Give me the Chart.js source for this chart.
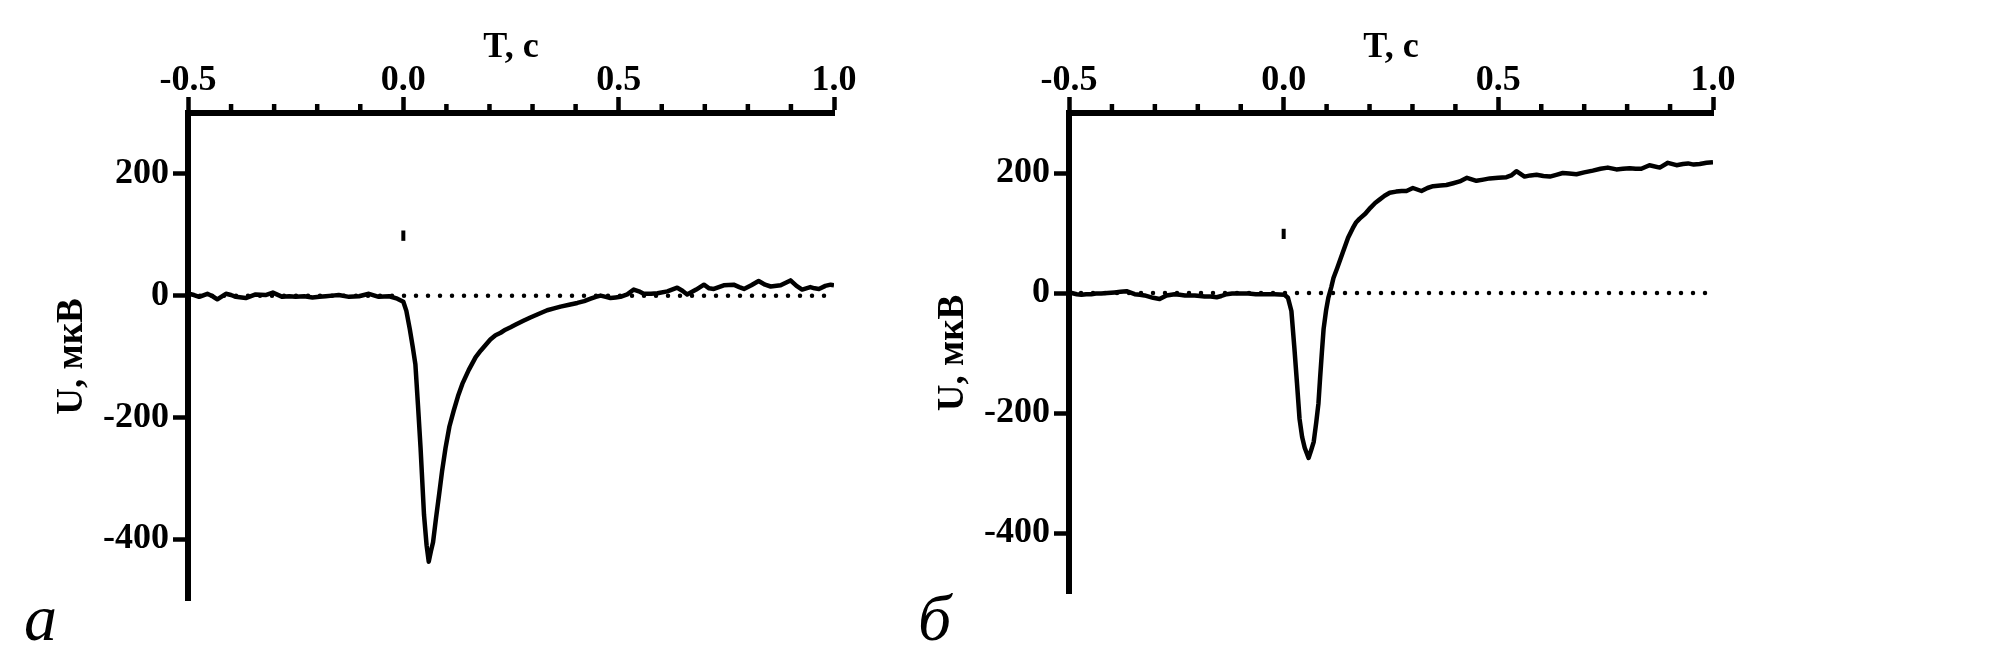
<!DOCTYPE html>
<html>
<head>
<meta charset="utf-8">
<script src="https://cdn.jsdelivr.net/npm/chart.js@4.4.1/dist/chart.umd.min.js"></script>
<style>
    html, body { margin: 0; padding: 0; background: #fff; }
    body { width: 2008px; height: 665px; position: relative; overflow: hidden; }
    canvas { position: absolute; top: 0; }
    #chart-a { left: 0; }
    #chart-b { left: 900px; }
    .panel-label {
        position: absolute;
        font-family: "Liberation Serif", "Times New Roman", serif;
        font-style: italic;
        font-size: 66px;
        line-height: 1;
    }
</style>
</head>
<body>
<canvas id="chart-a" width="900" height="665"></canvas>
<canvas id="chart-b" width="1108" height="665"></canvas>
<div class="panel-label" style="left:24px; top:585px;">а</div>
<div class="panel-label" style="left:918px; top:585px;">б</div>
<script>
// panel "а": time, s / potential, µV
const tA = [-0.498, -0.486, -0.474, -0.455, -0.443, -0.432, -0.412, -0.400, -0.389, -0.366,
    -0.343, -0.320, -0.303, -0.281, -0.265, -0.250, -0.230, -0.211, -0.195, -0.180,
    -0.165, -0.150, -0.126, -0.103, -0.080, -0.057, -0.033, -0.014, 0.000, 0.007,
    0.015, 0.022, 0.028, 0.034, 0.040, 0.048, 0.054, 0.059, 0.064, 0.069,
    0.076, 0.083, 0.090, 0.098, 0.107, 0.117, 0.127, 0.137, 0.152, 0.168,
    0.180, 0.191, 0.202, 0.214, 0.226, 0.237, 0.249, 0.260, 0.280, 0.295,
    0.311, 0.334, 0.350, 0.365, 0.385, 0.404, 0.420, 0.435, 0.447, 0.458,
    0.470, 0.481, 0.493, 0.504, 0.520, 0.535, 0.547, 0.558, 0.575, 0.590,
    0.613, 0.636, 0.648, 0.659, 0.680, 0.698, 0.710, 0.721, 0.744, 0.767,
    0.780, 0.791, 0.808, 0.825, 0.840, 0.853, 0.876, 0.899, 0.913, 0.926,
    0.945, 0.955, 0.965, 0.980, 0.992, 1.000];
const uA = [3, 1, -2, 3, -1, -6, 3, 1, -2, -4,
    2, 1, 5, -2, -1, -2, -1, -3, -2, -1,
    0, 1, -2, -1, 3, -2, -1, -5, -10, -25,
    -55, -85, -113, -180, -250, -360, -410, -437, -420, -405,
    -365, -327, -288, -250, -215, -189, -165, -145, -122, -101,
    -90, -81, -72, -65, -61, -56, -52, -48, -41, -36,
    -31, -24, -21, -18, -15, -12, -9, -5, -2, 0,
    -2, -4, -3, -2, 2, 10, 7, 3, 3, 4,
    7, 13, 8, 2, 10, 18, 12, 11, 17, 18,
    14, 11, 17, 24, 18, 15, 17, 25, 16, 10,
    14, 12, 11, 16, 18, 17];

// panel "б"
const tB = [-0.500, -0.494, -0.482, -0.471, -0.460, -0.448, -0.437, -0.425, -0.410, -0.394,
    -0.380, -0.366, -0.347, -0.335, -0.324, -0.314, -0.304, -0.289, -0.273, -0.254,
    -0.242, -0.230, -0.207, -0.195, -0.184, -0.170, -0.156, -0.145, -0.133, -0.120,
    -0.106, -0.082, -0.065, -0.051, -0.021, 0.002, 0.010, 0.018, 0.025, 0.031,
    0.037, 0.043, 0.049, 0.058, 0.064, 0.070, 0.076, 0.081, 0.085, 0.089,
    0.093, 0.099, 0.104, 0.111, 0.116, 0.125, 0.136, 0.150, 0.161, 0.169,
    0.177, 0.190, 0.202, 0.213, 0.224, 0.235, 0.247, 0.262, 0.275, 0.286,
    0.301, 0.321, 0.335, 0.348, 0.365, 0.379, 0.395, 0.410, 0.427, 0.449,
    0.465, 0.480, 0.500, 0.519, 0.530, 0.542, 0.561, 0.575, 0.589, 0.605,
    0.620, 0.635, 0.650, 0.665, 0.682, 0.700, 0.720, 0.738, 0.755, 0.775,
    0.790, 0.806, 0.820, 0.833, 0.852, 0.876, 0.895, 0.915, 0.930, 0.942,
    0.955, 0.969, 0.985, 1.000];
const uB = [-1, 0, -2, -3, -2, -2, -1, -1, 0, 1,
    2, 3, -2, -3, -4, -6, -8, -10, -4, -2,
    -3, -4, -4, -5, -6, -6, -7, -5, -2, -1,
    -1, -1, -2, -2, -2, -3, -8, -30, -92, -150,
    -210, -240, -258, -275, -262, -248, -215, -184, -140, -99,
    -60, -28, -8, 10, 25, 42, 64, 92, 108, 118,
    124, 132, 142, 150, 156, 162, 167, 169, 170, 170,
    175, 170, 175, 178, 179, 180, 183, 186, 192, 187,
    189, 191, 192, 193, 196, 203, 194, 196, 197, 195,
    194, 197, 200, 199, 198, 201, 204, 207, 209, 206,
    207, 208, 207, 207, 213, 209, 217, 213, 215, 216,
    214, 215, 217, 218];

// axes
const xTicks = [-0.5, 0.0, 0.5, 1.0];
const xMinorTicks = [-0.4, -0.3, -0.2, -0.1, 0.1, 0.2, 0.3, 0.4, 0.6, 0.7, 0.8, 0.9];
const yTicks = [-400, -200, 0, 200];

// dotted zero line and stimulus mark
const zeroT = [-0.5, 1.0];
const zeroU = [0, 0];
const markT = [0, 0];
const markU = [90, 107];

const serif = '"Liberation Serif", "Times New Roman", serif';
const boldFont = { family: serif, size: 36, weight: 'bold', lineHeight: 1 };

const toPoints = (t, u) => t.map((x, i) => ({ x: x, y: u[i] }));

// short ticks between the labelled ones
const minorTicks = {
    id: 'minorTicks',
    afterDraw(chart) {
        const ctx = chart.ctx;
        const x = chart.scales.x;
        ctx.save();
        ctx.strokeStyle = '#000';
        ctx.lineWidth = 4.5;
        xMinorTicks.forEach(v => {
            const px = x.getPixelForValue(v);
            ctx.beginPath();
            ctx.moveTo(px, x.bottom - 9);
            ctx.lineTo(px, x.bottom);
            ctx.stroke();
        });
        ctx.restore();
    }
};

function makeChart(canvasId, t, u, box) {
    return new Chart(document.getElementById(canvasId), {
        type: 'line',
        data: {
            datasets: [{
                data: toPoints(zeroT, zeroU),
                borderColor: '#000',
                borderWidth: 4.5,
                borderDash: [0, 12],
                borderCapStyle: 'round'
            }, {
                data: toPoints(markT, markU),
                borderColor: '#000',
                borderWidth: 4,
                borderCapStyle: 'butt'
            }, {
                data: toPoints(t, u),
                borderColor: '#000',
                borderWidth: 4.5,
                borderJoinStyle: 'round',
                tension: 0
            }]
        },
        options: {
            responsive: false,
            animation: false,
            devicePixelRatio: 1,
            elements: { point: { radius: 0 } },
            layout: { padding: { left: 0, top: 0, right: box.right, bottom: box.bottom } },
            plugins: { legend: { display: false }, tooltip: { enabled: false } },
            scales: {
                x: {
                    type: 'linear',
                    position: 'top',
                    min: -0.5,
                    max: 1.0,
                    afterBuildTicks: s => { s.ticks = xTicks.map(v => ({ value: v })); },
                    afterFit: s => { s.height = 113; },
                    ticks: {
                        callback: v => v.toFixed(1),
                        font: boldFont,
                        color: '#000',
                        padding: -2,
                        maxRotation: 0,
                        autoSkip: false
                    },
                    grid: { drawOnChartArea: false, tickLength: 16, tickWidth: 4.5, tickColor: '#000' },
                    border: { color: '#000', width: 6 },
                    title: {
                        display: true,
                        text: 'T, с',
                        color: '#000',
                        font: { family: serif, size: 36, weight: 'bold' },
                        padding: { top: 26, bottom: 0 }
                    }
                },
                y: {
                    type: 'linear',
                    min: -500,
                    max: 300,
                    afterBuildTicks: s => { s.ticks = yTicks.map(v => ({ value: v })); },
                    afterFit: s => { s.width = box.left; },
                    ticks: {
                        callback: v => String(v),
                        font: boldFont,
                        color: '#000',
                        padding: 4
                    },
                    grid: { drawOnChartArea: false, tickLength: 15, tickWidth: 4.5, tickColor: '#000' },
                    border: { color: '#000', width: 6 },
                    title: {
                        display: true,
                        text: 'U, мкВ',
                        color: '#000',
                        font: { family: serif, size: 37, weight: 'bold' },
                        padding: { top: box.titleX, bottom: 0 }
                    }
                }
            }
        },
        plugins: [minorTicks]
    });
}

let chartA = makeChart('chart-a', tA, uA, { left: 188, right: 66, bottom: 65, titleX: 50 });
let chartB = makeChart('chart-b', tB, uB, { left: 169, right: 295, bottom: 72, titleX: 31 });
</script>
</body>
</html>
